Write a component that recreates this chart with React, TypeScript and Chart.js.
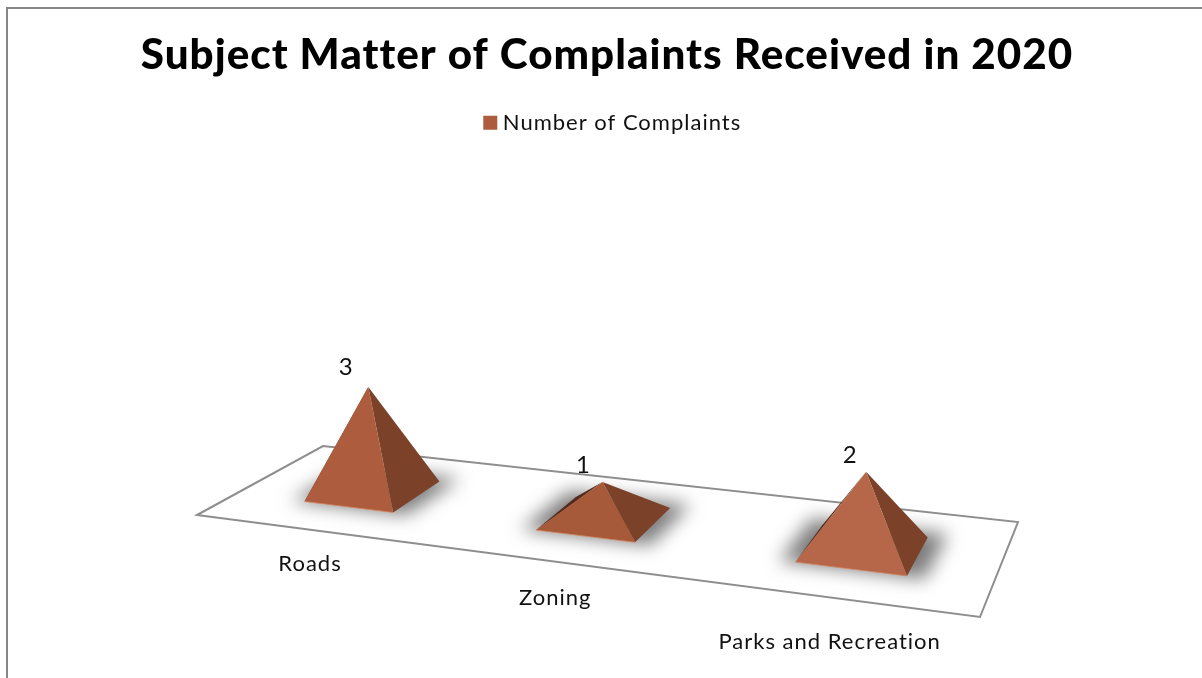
import React, { useEffect, useRef } from "react";
import { Chart, registerables } from "chart.js";

Chart.register(...registerables);

const categories = ["Roads", "Zoning", "Parks and Recreation"];
const complaintCounts = [3, 1, 2];
const seriesName = "Number of Complaints";
const titleText = "Subject Matter of Complaints Received in 2020";

const FONT = "Lato, 'Open Sans', sans-serif";
const SERIES_COLOR = "#AE5C3E";
const FRONT_COLORS = ["#AD5C3D", "#A65A39", "#B6674A"];
const RIGHT_COLOR = "#7C4229";
const LEFT_COLOR = "#552C1C";
const EDGE_COLOR = "rgba(214,132,92,0.75)";
const FLOOR_STROKE = "#8E8E8E";
const BORDER_STROKE = "#878787";

// Floor plane corners (front-left, front-right, back-right, back-left) in the picture.
const FLOOR = [
  [197, 515],
  [980, 617],
  [1018, 522],
  [323, 446],
];
const FOOT_DEPTH = 0.21;
const LEFT_TRIM = 0.008;
const LEAN = 0.16;
const SHADOW_SCALE = 1.3;
const LABEL_DROP = [34, 36, 45];
const LABEL_SHIFT = [1, 2, 1];
const VALUE_SHIFT = [
  [-22, -20],
  [-19, -17],
  [-16, -16],
];

function makeProjection() {
  const [[x0, y0], [x1, y1], [x2, y2], [x3, y3]] = FLOOR;
  const dx1 = x1 - x2, dx2 = x3 - x2, sx = x0 - x1 + x2 - x3;
  const dy1 = y1 - y2, dy2 = y3 - y2, sy = y0 - y1 + y2 - y3;
  const det = dx1 * dy2 - dx2 * dy1;
  const g = (sx * dy2 - dx2 * sy) / det;
  const h = (dx1 * sy - sx * dy1) / det;
  const a = x1 - x0 + g * x1, b = x3 - x0 + h * x3;
  const d = y1 - y0 + g * y1, e = y3 - y0 + h * y3;
  return (u: number, v: number) => {
    const w = g * u + h * v + 1;
    return { x: (a * u + b * v + x0) / w, y: (d * u + e * v + y0) / w, w };
  };
}

const project = makeProjection();

function poly(ctx: CanvasRenderingContext2D, pts: { x: number; y: number }[], fill: string) {
  ctx.beginPath();
  pts.forEach((p, i) => (i ? ctx.lineTo(p.x, p.y) : ctx.moveTo(p.x, p.y)));
  ctx.closePath();
  ctx.fillStyle = fill;
  ctx.fill();
}

function footprint(chart: any, meta: any, i: number) {
  const area = chart.chartArea;
  const bar = meta.data[i];
  const u = (bar.x - area.left) / (area.right - area.left);
  const du = bar.width / 2 / (area.right - area.left);
  const v = 0.5;
  const centre = project(u, v);
  const rise = (bar.base - bar.y) / centre.w;
  const apex = { x: centre.x + rise * LEAN * (u - 0.3), y: centre.y - rise };
  const dL = du - LEFT_TRIM;
  const k = SHADOW_SCALE;
  return {
    u,
    apex,
    fl: project(u - dL, v - FOOT_DEPTH),
    fr: project(u + du, v - FOOT_DEPTH),
    br: project(u + du, v + FOOT_DEPTH),
    bl: project(u - dL, v + FOOT_DEPTH),
    shadow: [
      project(u - dL * k, v - FOOT_DEPTH * 1.05),
      project(u + du * k, v - FOOT_DEPTH * 1.05),
      project(u + du * k, v + FOOT_DEPTH * k),
      project(u - dL * k, v + FOOT_DEPTH * k),
    ],
  };
}

const pyramidPlugin = {
  id: "pyramids",
  beforeUpdate(chart: any) {
    chart.ctx.letterSpacing = "1px";
  },
  afterLayout(chart: any) {
    chart.legend.left += 16;
  },
  beforeDraw(chart: any) {
    const ctx = chart.ctx;
    ctx.letterSpacing = "1px";
    ctx.save();
    ctx.fillStyle = "#ffffff";
    ctx.fillRect(0, 0, chart.width, chart.height);
    ctx.strokeStyle = BORDER_STROKE;
    ctx.lineWidth = 2;
    ctx.beginPath();
    ctx.moveTo(7, chart.height + 2);
    ctx.lineTo(7, 8);
    ctx.lineTo(chart.width + 2, 8);
    ctx.stroke();
    ctx.restore();
  },
  beforeDatasetDraw(chart: any, args: any) {
    const ctx = chart.ctx;
    const meta = args.meta;
    ctx.save();
    ctx.beginPath();
    FLOOR.forEach(([x, y], i) => (i ? ctx.lineTo(x, y) : ctx.moveTo(x, y)));
    ctx.closePath();
    ctx.fillStyle = "#ffffff";
    ctx.fill();
    ctx.strokeStyle = FLOOR_STROKE;
    ctx.lineWidth = 2;
    ctx.stroke();

    const shapes = meta.data.map((_: any, i: number) => footprint(chart, meta, i));
    shapes.forEach((s: any) => {
      ctx.save();
      ctx.filter = "blur(9px)";
      poly(ctx, s.shadow, "rgba(75,75,75,0.72)");
      ctx.restore();
    });
    shapes.forEach((s: any, i: number) => {
      poly(ctx, [s.bl, s.fl, s.apex], LEFT_COLOR);
      poly(ctx, [s.fr, s.br, s.apex], RIGHT_COLOR);
      poly(ctx, [s.fl, s.fr, s.apex], FRONT_COLORS[i]);
      ctx.beginPath();
      ctx.moveTo(s.fl.x, s.fl.y);
      ctx.lineTo(s.fr.x, s.fr.y);
      ctx.strokeStyle = EDGE_COLOR;
      ctx.lineWidth = 1;
      ctx.stroke();
    });
    ctx.restore();
    return false;
  },
  afterDatasetsDraw(chart: any) {
    const ctx = chart.ctx;
    const meta = chart.getDatasetMeta(0);
    const area = chart.chartArea;
    ctx.save();
    ctx.fillStyle = "#111111";
    ctx.textAlign = "center";
    ctx.textBaseline = "middle";
    meta.data.forEach((bar: any, i: number) => {
      const s = footprint(chart, meta, i);
      ctx.font = `24px ${FONT}`;
      ctx.fillText(String(complaintCounts[i]), s.apex.x + VALUE_SHIFT[i][0], s.apex.y + VALUE_SHIFT[i][1]);
      const u = (bar.x - area.left) / (area.right - area.left);
      const edge = project(u, 0);
      ctx.font = `22px ${FONT}`;
      ctx.fillText(categories[i], edge.x + LABEL_SHIFT[i], edge.y + LABEL_DROP[i]);
    });
    ctx.restore();
  },
};

export default function App() {
  const ref = useRef<HTMLCanvasElement | null>(null);
  useEffect(() => {
    if (!ref.current) return;
    const chart = new Chart(ref.current, {
      type: "bar",
      data: {
        labels: categories,
        datasets: [
          {
            label: seriesName,
            data: complaintCounts,
            backgroundColor: SERIES_COLOR,
            barPercentage: 0.42,
            categoryPercentage: 1,
          },
        ],
      },
      options: {
        responsive: false,
        animation: false,
        layout: { padding: { bottom: 30, left: 12 } },
        scales: {
          x: { display: false },
          y: { display: false, min: 0, max: 14 },
        },
        plugins: {
          tooltip: { enabled: false },
          title: {
            display: true,
            text: titleText,
            color: "#000000",
            font: { family: FONT, size: 42.2, weight: "900", lineHeight: 1.2 },
            padding: { top: 30, bottom: 21 },
          },
          legend: {
            display: true,
            position: "top",
            labels: {
              color: "#111111",
              font: { family: FONT, size: 22 },
              usePointStyle: true,
              pointStyle: "rect",
              boxWidth: 3,
              boxHeight: 14,
              padding: 10,
            },
          },
        },
      },
      plugins: [pyramidPlugin],
    } as any);
    return () => chart.destroy();
  }, []);
  return (
    <div style={{ position: "fixed", left: 0, top: 0, width: 1202, height: 678 }}>
      <canvas ref={ref} width={1202} height={678} style={{ display: "block" }} />
    </div>
  );
}
